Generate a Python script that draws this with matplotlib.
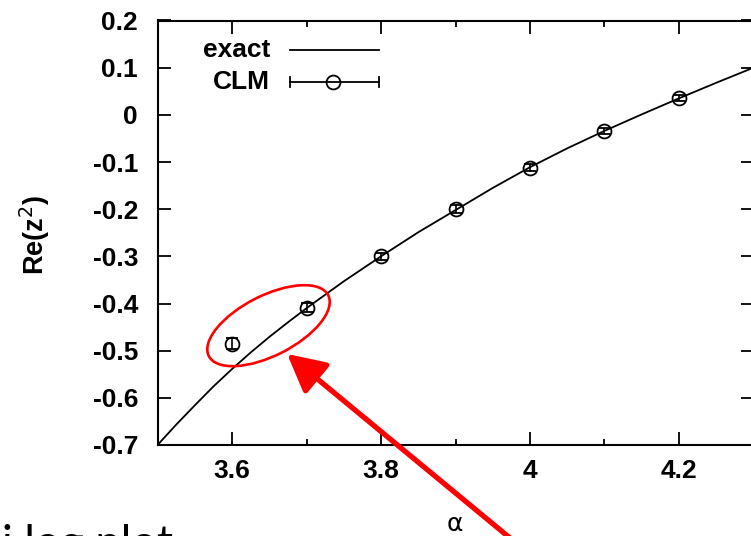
import matplotlib
matplotlib.use("Agg")
import matplotlib.pyplot as plt
from matplotlib.patches import Ellipse
from matplotlib import transforms
from matplotlib.ticker import MultipleLocator, FixedLocator

# exact curve, sampled along alpha
alpha_exact = [3.500, 3.525, 3.550, 3.575, 3.600, 3.625, 3.650, 3.675,
               3.700, 3.750, 3.800, 3.850, 3.900, 3.950, 4.000, 4.050,
               4.100, 4.150, 4.200, 4.250, 4.300]
re_exact = [-0.700, -0.657, -0.616, -0.576, -0.539, -0.504, -0.471, -0.440,
            -0.410, -0.353, -0.300, -0.249, -0.202, -0.155, -0.111, -0.071,
            -0.034, 0.001, 0.035, 0.068, 0.100]

# complex Langevin results with statistical errors
alpha_clm = [3.6, 3.7, 3.8, 3.9, 4.0, 4.1, 4.2]
re_clm = [-0.485, -0.409, -0.300, -0.200, -0.112, -0.034, 0.036]
err_clm = [0.012, 0.010, 0.008, 0.008, 0.007, 0.006, 0.006]

x_ticks = [3.6, 3.8, 4.0, 4.2]
x_ticklabels = ["3.6", "3.8", "4", "4.2"]
y_ticks = [0.2, 0.1, 0.0, -0.1, -0.2, -0.3, -0.4, -0.5, -0.6, -0.7]
y_ticklabels = ["0.2", "0.1", "0", "-0.1", "-0.2", "-0.3", "-0.4", "-0.5", "-0.6", "-0.7"]

W, H = 751, 536
fig = plt.figure(figsize=(W / 100, H / 100), dpi=100)
ax = fig.add_axes([157.5 / W, 1 - 445 / H, 596 / W, 424.5 / H])

ax.set_xlim(3.5, 4.3)
ax.set_ylim(-0.7, 0.2)

ax.plot(alpha_exact, re_exact, color="black", lw=1.3, zorder=3)
ax.errorbar(alpha_clm, re_clm, yerr=err_clm, fmt="o", ms=10, mfc="none",
            mec="black", mew=1.3, ecolor="black", elinewidth=1.2,
            capsize=4, capthick=1.2, zorder=4)

label_font = dict(family="Liberation Sans", weight="bold", size=19)

ax.xaxis.set_major_locator(FixedLocator(x_ticks))
ax.xaxis.set_minor_locator(MultipleLocator(0.1))
ax.set_xticklabels(x_ticklabels, fontdict=label_font)
ax.yaxis.set_major_locator(FixedLocator(y_ticks))
ax.set_yticklabels(y_ticklabels, fontdict=label_font)

ax.tick_params(which="both", direction="in", top=True, right=True,
               width=1.3, color="black")
ax.tick_params(which="major", length=9.5)
ax.tick_params(which="minor", length=4.5)
ax.tick_params(axis="x", which="major", pad=10)
ax.tick_params(axis="y", which="major", pad=14)
for sp in ax.spines.values():
    sp.set_linewidth(1.5)

# axis titles
fig.text(455 / W, 1 - 524 / H, "α", ha="center", va="center",
         fontsize=18, family="DejaVu Sans")
fig.text(35 / W, 1 - 235 / H, "Re(z$^{2}$)", ha="center", va="center",
         rotation=90, family="Liberation Sans", weight="bold", size=19.5)

# key, drawn in axes coordinates
ax.text(0.189, 0.930, "exact", transform=ax.transAxes, ha="right",
        va="center", **label_font)
ax.plot([0.222, 0.372], [0.930, 0.930], transform=ax.transAxes,
        color="black", lw=1.3)
ax.text(0.189, 0.855, "CLM", transform=ax.transAxes, ha="right",
        va="center", **label_font)
ax.plot([0.222, 0.372], [0.855, 0.855], transform=ax.transAxes,
        color="black", lw=1.3)
ax.plot([0.294], [0.855], "o", ms=10, mfc="none", mec="black", mew=1.3,
        transform=ax.transAxes)
for xc in (0.222, 0.372):
    ax.plot([xc, xc], [0.843, 0.867], transform=ax.transAxes,
            color="black", lw=1.3)

# highlight of the two lowest points
trans = fig.dpi_scale_trans + transforms.ScaledTranslation(3.649, -0.447, ax.transData)
ax.add_patch(Ellipse((0, 0), 1.34, 0.60, angle=27, transform=trans,
                     fill=False, edgecolor="#ff0000", lw=1.9, zorder=6,
                     clip_on=False))

ax.annotate("", xy=(3.674, -0.507), xytext=(4.009, -0.944),
            xycoords="data", textcoords="data", annotation_clip=False,
            arrowprops=dict(arrowstyle="-|>,head_length=1.15,head_width=0.6",
                            mutation_scale=20, color="#ff0000", lw=3.8,
                            shrinkA=0, shrinkB=0, clip_on=False),
            zorder=7)

# slide caption running off the lower edge
fig.text(2 / W, 1 - 557 / H, "i log plot", ha="left", va="baseline",
         fontsize=32.5, family="Lato", color="black")

fig.savefig("out.png", dpi=100)
